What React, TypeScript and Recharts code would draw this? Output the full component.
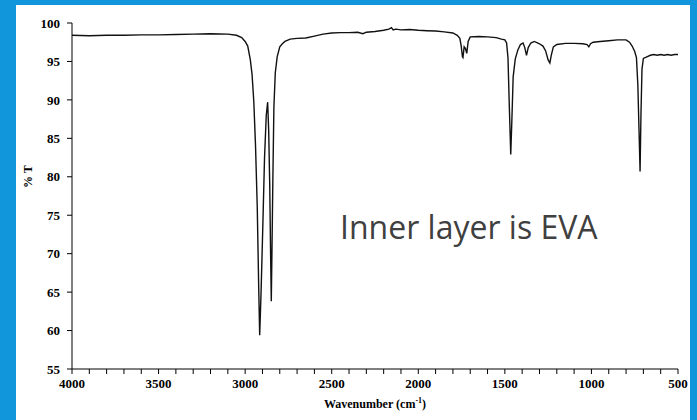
import React from 'react'
import { LineChart, Line, XAxis, YAxis } from 'recharts'

// spectrum, wavenumber (cm-1) and % transmittance
const wavenumbers = [
  4000, 3900, 3800, 3700, 3600, 3500, 3400, 3300, 3200, 3100, 3050, 3020, 3000, 2985, 2970, 2960,
  2950, 2940, 2930, 2922, 2916, 2908, 2898, 2888, 2878, 2870, 2864, 2858, 2853, 2849, 2845, 2840,
  2834, 2826, 2815, 2800, 2785, 2770, 2740, 2700, 2650, 2600, 2550, 2500, 2450, 2400, 2350, 2320,
  2300, 2250, 2200, 2170, 2155, 2145, 2130, 2100, 2050, 2000, 1950, 1900, 1850, 1800, 1775, 1760,
  1752, 1745, 1742, 1735, 1728, 1720, 1712, 1700, 1650, 1600, 1550, 1520, 1500, 1490, 1482, 1474,
  1466, 1460, 1452, 1440, 1425, 1410, 1395, 1385, 1375, 1365, 1350, 1330, 1300, 1280, 1265, 1250,
  1240, 1232, 1220, 1200, 1150, 1100, 1050, 1025, 1015, 1005, 990, 950, 900, 850, 800, 780,
  765, 750, 740, 732, 725, 719, 714, 708, 700, 680, 660, 640, 620, 600, 580, 560,
  540, 520, 500,
]
const transmittance = [
  98.4, 98.35, 98.4, 98.4, 98.45, 98.45, 98.5, 98.55, 98.6, 98.55, 98.4, 98.1, 97.6, 97.0, 95.2, 93.3,
  89.8, 84.0, 76.0, 66.0, 59.4, 65.0, 73.5, 82.5, 88.0, 89.7, 86.0, 79.0, 70.0, 63.8, 70.5, 79.5,
  89.0, 93.5, 95.6, 96.9, 97.3, 97.6, 97.9, 98.0, 98.05, 98.3, 98.55, 98.7, 98.75, 98.75, 98.8, 98.6,
  98.8, 98.9, 99.05, 99.2, 99.4, 99.1, 99.2, 99.1, 99.15, 99.05, 99.0, 98.95, 98.85, 98.7, 98.4, 98.0,
  97.0, 95.6, 95.5, 96.9, 96.7, 96.05, 97.6, 98.2, 98.25, 98.2, 98.1, 97.9, 97.8, 97.4, 95.5, 89.0,
  82.9, 87.0, 93.0, 95.3, 96.5, 97.2, 97.4, 96.8, 95.8, 96.8, 97.4, 97.6, 97.3, 97.0, 96.4, 95.2,
  94.8, 95.8, 96.9, 97.2, 97.35, 97.35, 97.3, 97.2, 96.9, 97.3, 97.5, 97.6, 97.7, 97.8, 97.8, 97.5,
  97.0, 96.3, 95.5, 92.0, 86.0, 80.7, 88.0, 94.0, 95.4, 95.6, 95.8, 95.9, 95.8, 95.9, 95.8, 95.9,
  95.8, 95.9, 95.9,
]

const xTicks = [4000, 3900, 3800, 3700, 3600, 3500, 3400, 3300, 3200, 3100, 3000, 2900, 2800, 2700,
  2600, 2500, 2400, 2300, 2200, 2100, 2000, 1900, 1800, 1700, 1600, 1500, 1400, 1300, 1200, 1100,
  1000, 900, 800, 700, 600, 500]
const yTicks = [55, 60, 65, 70, 75, 80, 85, 90, 95, 100]

const data = wavenumbers.map((wn, i) => ({ wn, t: transmittance[i] }))

const tickFont = { fontFamily: '"Liberation Serif", serif', fontWeight: 700, fontSize: 13, fill: '#000' }
const titleFont = { ...tickFont, fontSize: 12 }

function XTitle({ viewBox }: any) {
  const cx = viewBox.x + viewBox.width / 2
  return (
    <text x={cx} y={408} textAnchor="middle" style={titleFont}>
      Wavenumber (cm
      <tspan fontSize={8} dy={-5}>-1</tspan>
      <tspan dy={5}>)</tspan>
    </text>
  )
}

export default function App() {
  return (
    <div style={{ position: 'absolute', left: 0, top: 0, width: 697, height: 420, background: '#1296db' }}>
      <div style={{ position: 'absolute', left: 16, top: 5, width: 674, height: 415, background: '#fff' }} />
      <div style={{ position: 'absolute', left: 0, top: 0 }}>
        <LineChart width={697} height={420} data={data} margin={{ top: 23, right: 19, left: 22, bottom: 21 }}>
          <XAxis
            dataKey="wn"
            type="number"
            domain={[500, 4000]}
            reversed
            ticks={xTicks}
            interval={0}
            tickSize={5}
            tickMargin={5}
            height={30}
            stroke="#000"
            tick={tickFont}
            tickFormatter={(v: number) => (v % 500 === 0 ? String(v) : '')}
            label={<XTitle />}
          />
          <YAxis
            type="number"
            domain={[55, 100]}
            ticks={yTicks}
            interval={0}
            width={50}
            tickSize={5}
            tickMargin={7}
            stroke="#000"
            tick={tickFont}
            label={{ value: '% T', angle: -90, position: 'insideLeft', offset: 6, dy: -8, style: titleFont }}
          />
          <Line
            type="linear"
            dataKey="t"
            stroke="#111"
            strokeWidth={1.4}
            dot={false}
            isAnimationActive={false}
          />
        </LineChart>
      </div>
      <div
        style={{
          position: 'absolute',
          left: 340,
          top: 205,
          fontFamily: '"Open Sans", sans-serif',
          fontSize: 32,
          color: '#404040',
          whiteSpace: 'nowrap',
        }}
      >
        Inner layer is EVA
      </div>
    </div>
  )
}
